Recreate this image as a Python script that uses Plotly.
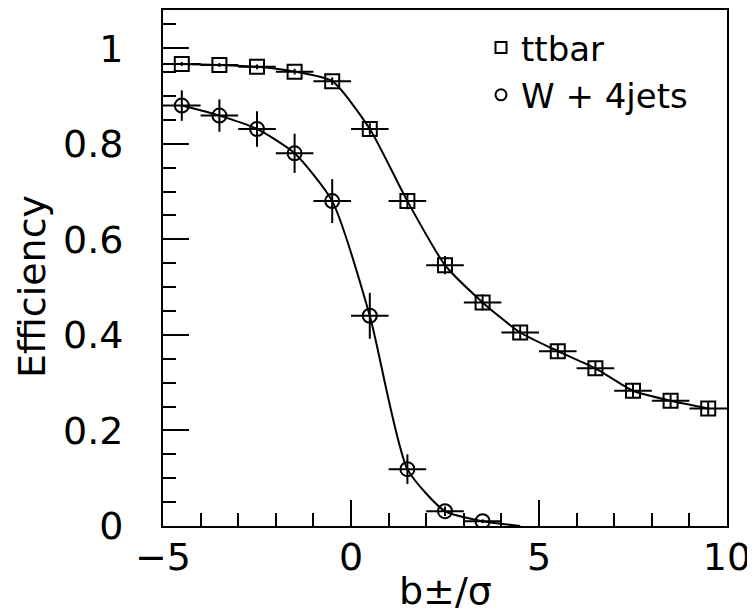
import plotly.graph_objects as go

# Bin centers (b±/σ)
ttbar_x = [-4.5, -3.5, -2.5, -1.5, -0.5, 0.5, 1.5, 2.5, 3.5, 4.5, 5.5, 6.5, 7.5, 8.5, 9.5]
ttbar_eff = [0.967, 0.965, 0.961, 0.951, 0.931, 0.831, 0.680, 0.546, 0.468, 0.405, 0.366, 0.330, 0.283, 0.262, 0.246]
ttbar_err = [0.004, 0.004, 0.005, 0.006, 0.008, 0.012, 0.017, 0.019, 0.017, 0.016, 0.015, 0.015, 0.014, 0.013, 0.013]

wjets_x = [-4.5, -3.5, -2.5, -1.5, -0.5, 0.5, 1.5, 2.5, 3.5, 4.5]
wjets_eff = [0.880, 0.859, 0.831, 0.780, 0.680, 0.440, 0.119, 0.031, 0.010, 0.0]
wjets_err = [0.032, 0.034, 0.037, 0.041, 0.046, 0.048, 0.031, 0.010, 0.004, 0.0]

bin_half_width = 0.5

y_tickvals = [0, 0.2, 0.4, 0.6, 0.8, 1.0]
y_ticktext = ["0", "0.2", "0.4", "0.6", "0.8", "1"]
x_tickvals = [-5, 0, 5, 10]
x_ticktext = ["\u22125", "0", "5", "10"]

FONT = "DejaVu Sans, Liberation Sans, Arial, sans-serif"

# page layout (browser body has an 8px margin)
OFF = 8
PAGE_W, PAGE_H = 755, 614
W, H = PAGE_W - OFF, PAGE_H - OFF
PLOT_L, PLOT_R, PLOT_T, PLOT_B = 163, 727, 10, 526
L = PLOT_L - OFF
T = PLOT_T - OFF
R = (OFF + W) - PLOT_R
B = (OFF + H) - PLOT_B
plot_w = PLOT_R - PLOT_L
plot_h = PLOT_B - PLOT_T


def px(X):
    return (X - PLOT_L) / plot_w


def py(Y):
    return (PLOT_B - Y) / plot_h


fig = go.Figure()

fig.add_trace(go.Scatter(
    x=ttbar_x, y=ttbar_eff, mode="lines+markers", line_shape="spline",
    line=dict(color="black", width=2, smoothing=0.6),
    marker=dict(symbol="square-open", size=14, color="black", opacity=1, line=dict(width=2, color="black")),
    error_y=dict(type="data", array=ttbar_err, color="black", thickness=2, width=0),
    error_x=dict(type="constant", value=bin_half_width, color="black", thickness=2, width=0),
    showlegend=False,
))

w_sizes = [14] * (len(wjets_x) - 1) + [0]
fig.add_trace(go.Scatter(
    x=wjets_x, y=wjets_eff, mode="lines+markers", line_shape="spline",
    line=dict(color="black", width=2, smoothing=0.6),
    marker=dict(symbol="circle-open", size=w_sizes, color="black", opacity=1, line=dict(width=2, color="black")),
    error_y=dict(type="data", array=wjets_err, color="black", thickness=2, width=0),
    error_x=dict(type="data", array=[bin_half_width] * (len(wjets_x) - 1) + [0], color="black", thickness=2, width=0),
    showlegend=False,
))

# legend entries (markers only)
fig.add_trace(go.Scatter(x=[None], y=[None], mode="markers", name="ttbar", legendgroup="a",
                         marker=dict(symbol="square-open", size=11, color="black", line=dict(width=2, color="black"))))
fig.add_trace(go.Scatter(x=[None], y=[None], mode="markers", name="W + 4jets", legendgroup="b",
                         marker=dict(symbol="circle-open", size=11, color="black", line=dict(width=2, color="black"))))

fig.update_layout(
    width=W, height=H,
    margin=dict(l=L, r=R, t=T, b=B, autoexpand=False),
    paper_bgcolor="white", plot_bgcolor="white",
    font=dict(family=FONT, color="black"),
    legend=dict(x=px(481), y=py(19), xanchor="left", yanchor="top",
                font=dict(size=34, family=FONT, color="black"),
                bgcolor="rgba(0,0,0,0)", traceorder="grouped", tracegroupgap=0,
                itemwidth=30),
    xaxis=dict(range=[-5, 10], showgrid=False, zeroline=False, automargin=False,
               showline=True, linecolor="black", linewidth=2, mirror=True,
               ticks="inside", ticklen=26, tickwidth=2, tickcolor="black",
               tickvals=x_tickvals, ticktext=x_ticktext,
               tickfont=dict(size=38, family=FONT), ticklabelstandoff=-4,
               minor=dict(dtick=1, tick0=-5, ticks="inside", ticklen=13, tickwidth=2, tickcolor="black", showgrid=False)),
    yaxis=dict(range=[0, 1.08], showgrid=False, zeroline=False, automargin=False,
               showline=True, linecolor="black", linewidth=2, mirror=True,
               ticks="inside", ticklen=26, tickwidth=2, tickcolor="black",
               tickvals=y_tickvals, ticktext=y_ticktext,
               tickfont=dict(size=38, family=FONT), ticklabelstandoff=30,
               minor=dict(dtick=0.05, tick0=0, ticks="inside", ticklen=13, tickwidth=2, tickcolor="black", showgrid=False)),
    annotations=[
        dict(text="b\u00b1/\u03c3", xref="paper", yref="paper", x=0.5, y=py(591),
             xanchor="center", yanchor="middle", showarrow=False, font=dict(size=38, family=FONT)),
        dict(text="Efficiency", xref="paper", yref="paper", x=px(32), y=py(287),
             xanchor="center", yanchor="middle", textangle=-90, showarrow=False, borderpad=0,
             font=dict(size=38, family=FONT)),
    ],
)

fig.write_html("out.html")
